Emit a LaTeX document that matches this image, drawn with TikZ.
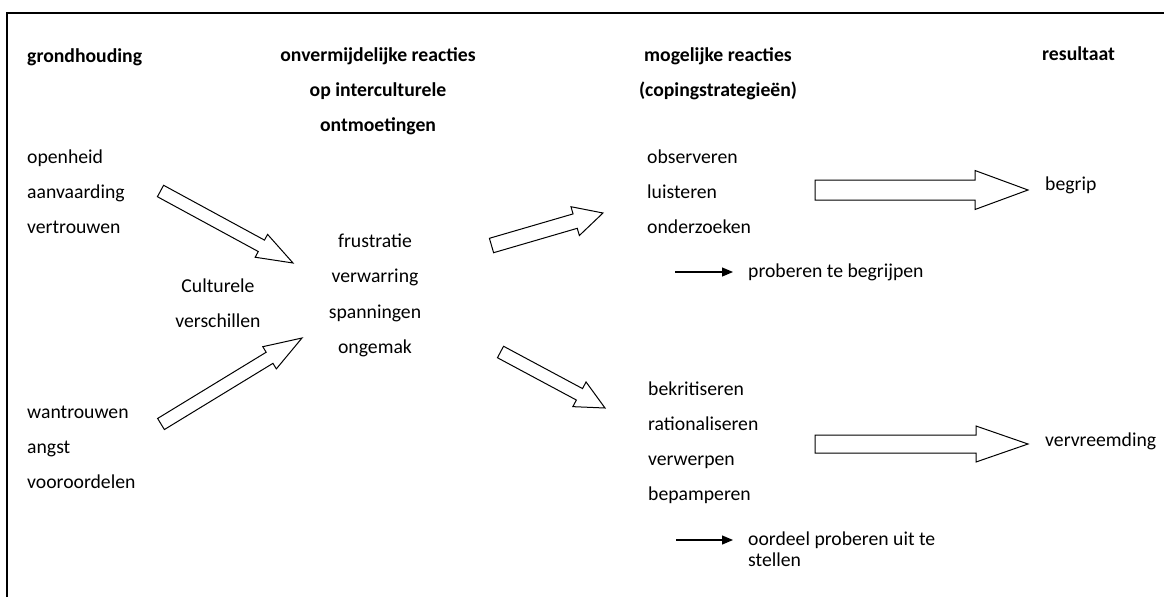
\documentclass[tikz,border=0pt]{standalone}
\usepackage{fontspec}
\setmainfont{Carlito}
\usetikzlibrary{calc,arrows.meta}
% #1 tail, #2 tip, #3 half shaft width, #4 half head width, #5 head length
\newcommand{\blockarrow}[5]{%
  \coordinate (hb) at ($(#2)!#5!(#1)$);
  \draw[blockarr] ($(#1)!#3!90:(#2)$) -- ($(hb)!#3!90:(#2)$) -- ($(hb)!#4!90:(#2)$) -- (#2)
     -- ($(hb)!#4!-90:(#2)$) -- ($(hb)!#3!-90:(#2)$) -- ($(#1)!#3!-90:(#2)$) -- cycle;
}
\begin{document}
\begin{tikzpicture}[x=1pt,y=-1pt,
  every node/.style={inner sep=0pt, font=\fontsize{19.7}{24}\selectfont, text=black},
  lbl/.style={anchor=base west},
  ctr/.style={anchor=base},
  hdg/.style={font=\fontsize{19.7}{24}\selectfont\bfseries},
  blockarr/.style={draw=black, line width=1pt, fill=white, line join=miter},
  smallarr/.style={-{Triangle[length=11pt,width=9pt]}, line width=1.2pt},
  frame/.style={line width=2pt}]
\useasboundingbox (0,0) rectangle (1164,597);
\draw[frame] (7,597) -- (7,13) -- (1164,13);

% headings
\node[hdg,lbl] (h1) at (27,62) {grondhouding};
\node[hdg,ctr] (h2a) at (378,61) {onvermijdelijke reacties};
\node[hdg,ctr] (h2b) at (378,96) {op interculturele};
\node[hdg,ctr] (h2c) at (378,131) {ontmoetingen};
\node[hdg,ctr] (h3a) at (718,61) {mogelijke reacties};
\node[hdg,ctr] (h3b) at (718,96) {(copingstrategieën)};
\node[hdg,lbl] (h4) at (1042,60) {resultaat};

% left column
\node[lbl] (open) at (27,163.5) {openheid};
\node[lbl] (aanv) at (27,198) {aanvaarding};
\node[lbl] (vert) at (27,233) {vertrouwen};
\node[lbl] (want) at (27,418) {wantrouwen};
\node[lbl] (angst) at (27,453) {angst};
\node[lbl] (voor) at (27,488) {vooroordelen};

\node[ctr] (cult) at (218,292.5) {Culturele};
\node[ctr] (versch) at (218,327) {verschillen};

% middle column
\node[ctr] (frus) at (375,247) {frustratie};
\node[ctr] (verw) at (375,282.5) {verwarring};
\node[ctr] (span) at (375,318) {spanningen};
\node[ctr] (onge) at (375,353) {ongemak};

% coping
\node[lbl] (obs) at (647,163) {observeren};
\node[lbl] (luis) at (647,198) {luisteren};
\node[lbl] (onde) at (647,233) {onderzoeken};
\node[lbl] (prob) at (748,277) {proberen te begrijpen};

\node[lbl] (bekr) at (648,395) {bekritiseren};
\node[lbl] (rati) at (648,430) {rationaliseren};
\node[lbl] (verwe) at (648,465.5) {verwerpen};
\node[lbl] (bepa) at (648,500) {bepamperen};
\node[lbl] (oord) at (748,545) {oordeel proberen uit te};
\node[lbl] (stel) at (748,566) {stellen};

% results
\node[lbl] (begr) at (1045,190) {begrip};
\node[lbl] (vervr) at (1045,446) {vervreemding};

% block arrows
\coordinate (a1s) at (160.5,191); \coordinate (a1t) at (293,263);
\coordinate (a2s) at (161,424);   \coordinate (a2t) at (302,338);
\coordinate (a3s) at (491.5,245.5); \coordinate (a3t) at (603,213);
\coordinate (a4s) at (500.5,352); \coordinate (a4t) at (605,408);
\coordinate (a5s) at (815,190);   \coordinate (a5t) at (1028,190);
\coordinate (a6s) at (815,444);   \coordinate (a6t) at (1028,444);
\blockarrow{a1s}{a1t}{6.5pt}{13pt}{36pt}
\blockarrow{a2s}{a2t}{6.5pt}{13pt}{38pt}
\blockarrow{a3s}{a3t}{7.5pt}{15pt}{29pt}
\blockarrow{a4s}{a4t}{6.5pt}{14pt}{29pt}
\blockarrow{a5s}{a5t}{10pt}{19.5pt}{53pt}
\blockarrow{a6s}{a6t}{9pt}{18pt}{52pt}

% small arrows
\coordinate (s1) at (675,272);
\coordinate (s2) at (676,540);
\draw[smallarr, shorten >=15pt] (s1) -- (s1 -| prob.west);
\draw[smallarr, shorten >=15pt] (s2) -- (s2 -| oord.west);
\end{tikzpicture}
\end{document}
